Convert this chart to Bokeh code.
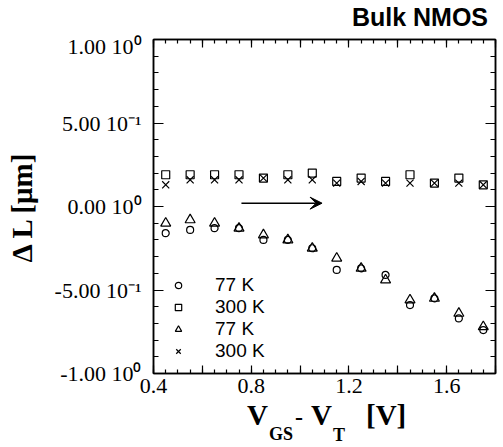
import numpy as np
from bokeh.plotting import figure
from bokeh.layouts import column
from bokeh.models import (Range1d, LinearAxis, FixedTicker, Legend, LegendItem,
                          Arrow, VeeHead, Div)
from bokeh.embed import file_html
from bokeh.resources import INLINE

# ---------------- data ----------------
vgs_vt = [0.45, 0.55, 0.65, 0.75, 0.85, 0.95, 1.05, 1.15, 1.25, 1.35, 1.45, 1.55, 1.65, 1.75]
dl_circle_77k = [-0.16, -0.14, -0.13, -0.13, -0.20, -0.20, -0.25, -0.38, -0.37, -0.41, -0.59, -0.55, -0.67, -0.74]
dl_square_300k = [0.19, 0.19, 0.19, 0.19, 0.17, 0.19, 0.20, 0.15, 0.17, 0.15, 0.19, 0.14, 0.17, 0.13]
dl_triangle_77k = [-0.10, -0.08, -0.10, -0.13, -0.17, -0.20, -0.25, -0.31, -0.37, -0.44, -0.56, -0.55, -0.64, -0.72]
dl_x_300k = [0.13, 0.16, 0.16, 0.16, 0.17, 0.16, 0.16, 0.14, 0.15, 0.14, 0.14, 0.14, 0.14, 0.13]
legend_labels = ["77 K", "300 K", "77 K", "300 K"]
y_tick_labels = {1.0: "1.00 10\u2070", 0.5: "5.00 10\u207b\u00b9", 0.0: "0.00 10\u2070",
                 -0.5: "-5.00 10\u207b\u00b9", -1.0: "-1.00 10\u2070"}
x_tick_labels = {0.4: "0.4", 0.6: "", 0.8: "0.8", 1.0: "", 1.2: "1.2", 1.4: "", 1.6: "1.6", 1.8: ""}
title_text = "Bulk NMOS"
y_label = "\u0394 L [\u03bcm]"

X0, X1, Y0, Y1 = 0.4, 1.8, -1.0, 1.0
W, H = 503, 447
TOP_H = 33          # strip holding the title
BOT_H = 47          # strip holding the x-axis label
MAIN_H = H - TOP_H - BOT_H
FL, FR, FT, FB = 153, 495, 39, 373   # frame edges on the page

p = figure(width=W, height=MAIN_H, output_backend="svg", toolbar_location=None,
           title=None,
           x_range=Range1d(X0, X1), y_range=Range1d(Y0, Y1),
           min_border_left=FL, min_border_right=W - FR, min_border_top=FT - TOP_H,
           min_border_bottom=(H - BOT_H) - FB, x_axis_location=None, y_axis_location=None)
p.grid.visible = False
p.outline_line_color = "black"
p.outline_line_width = 1.5

x_major = [0.4, 0.6, 0.8, 1.0, 1.2, 1.4, 1.6, 1.8]
x_minor = [round(v, 2) for v in np.arange(0.4, 1.8001, 0.05)]
y_major = [-1.0, -0.5, 0.0, 0.5, 1.0]
y_minor = [round(v, 2) for v in np.arange(-1.0, 1.0001, 0.1)]

def style_axis(ax, major_in, minor_in):
    ax.axis_line_color = "black"
    ax.axis_line_width = 1.5
    ax.major_tick_line_color = "black"
    ax.minor_tick_line_color = "black"
    ax.major_tick_line_width = 1.2
    ax.minor_tick_line_width = 1.2
    ax.major_tick_in = major_in
    ax.major_tick_out = 0
    ax.minor_tick_in = minor_in
    ax.minor_tick_out = 0
    ax.major_label_text_font = "Liberation Serif"
    ax.major_label_text_font_size = "22px"
    ax.major_label_text_color = "black"

bottom = LinearAxis(ticker=FixedTicker(ticks=x_major, minor_ticks=x_minor))
style_axis(bottom, 8, 4)
bottom.major_label_overrides = x_tick_labels
bottom.major_label_standoff = 5
top = LinearAxis(ticker=FixedTicker(ticks=x_major, minor_ticks=x_minor))
style_axis(top, 8, 4)
top.major_label_overrides = {t: "" for t in x_major}
top.major_label_standoff = 0
left = LinearAxis(ticker=FixedTicker(ticks=y_major, minor_ticks=y_minor))
style_axis(left, 10, 5)
left.major_label_overrides = y_tick_labels
left.major_label_standoff = 12
left.axis_label = y_label
left.axis_label_text_font = "Liberation Serif"
left.axis_label_text_font_size = "29px"
left.axis_label_text_font_style = "bold"
left.axis_label_text_color = "black"
left.axis_label_standoff = 14
right = LinearAxis(ticker=FixedTicker(ticks=y_major, minor_ticks=y_minor))
style_axis(right, 10, 5)
right.major_label_overrides = {t: "" for t in y_major}
right.major_label_standoff = 0
p.add_layout(bottom, "below")
p.add_layout(top, "above")
p.add_layout(left, "left")
p.add_layout(right, "right")

mk = dict(line_color="black", fill_color=None, line_width=1.2)
r_c = p.scatter(vgs_vt, dl_circle_77k, marker="circle", size=7, **mk)
r_s = p.scatter(vgs_vt, dl_square_300k, marker="square", size=8, **mk)
r_t = p.scatter(vgs_vt, dl_triangle_77k, marker="triangle", size=10, **mk)
r_x = p.scatter(vgs_vt, dl_x_300k, marker="x", size=10, **mk)

legend = Legend(items=[LegendItem(label=legend_labels[0], renderers=[r_c]),
                       LegendItem(label=legend_labels[1], renderers=[r_s]),
                       LegendItem(label=legend_labels[2], renderers=[r_t]),
                       LegendItem(label=legend_labels[3], renderers=[r_x])],
                location=(15, 11), glyph_width=20, glyph_height=16, label_height=16,
                spacing=-2, label_standoff=27, padding=0, margin=0,
                border_line_color=None, background_fill_alpha=0,
                label_text_font="Liberation Sans", label_text_font_size="19px",
                label_text_line_height=0.9, label_text_color="black")
p.add_layout(legend)

p.add_layout(Arrow(end=VeeHead(size=12, fill_color="black", line_color="black", line_width=1),
                   x_start=0.76, y_start=0.02, x_end=1.09, y_end=0.02,
                   line_color="black", line_width=1.5))

def span(text, left_px, top_px, size, family, extra=""):
    return (f'<span style="position:absolute;left:{left_px}px;top:{top_px}px;'
            f'font-family:\'{family}\';font-size:{size}px;line-height:{size}px;'
            f'font-weight:bold;color:black;white-space:nowrap;{extra}">{text}</span>')

# title strip (page y 0..33)
title_html = ('<div style="position:relative;width:503px;height:33px;">'
              f'<span style="position:absolute;right:15px;top:5px;font-family:\'Liberation Sans\';'
              f'font-size:25px;line-height:25px;font-weight:bold;color:black;'
              f'white-space:nowrap;">{title_text}</span></div>')
div_t = Div(text=title_html, width=W, height=TOP_H, margin=0)

# x-axis label strip (page y 400..447): V_GS - V_T [V]
sf = "Liberation Serif"
xlab_html = ('<div style="position:relative;width:503px;height:47px;">'
             + span("V", 247, 1, 29, sf)
             + span("GS", 269, 25, 18, sf)
             + span("-", 295, 5, 24, sf)
             + span("V", 311, 1, 29, sf)
             + span("T", 333, 26, 18, sf)
             + span("[V]", 366, 1, 29, sf)
             + '</div>')
div_b = Div(text=xlab_html, width=W, height=BOT_H, margin=0)

layout = column(div_t, p, div_b, spacing=0)
open("out.html", "w").write(file_html(layout, INLINE))
